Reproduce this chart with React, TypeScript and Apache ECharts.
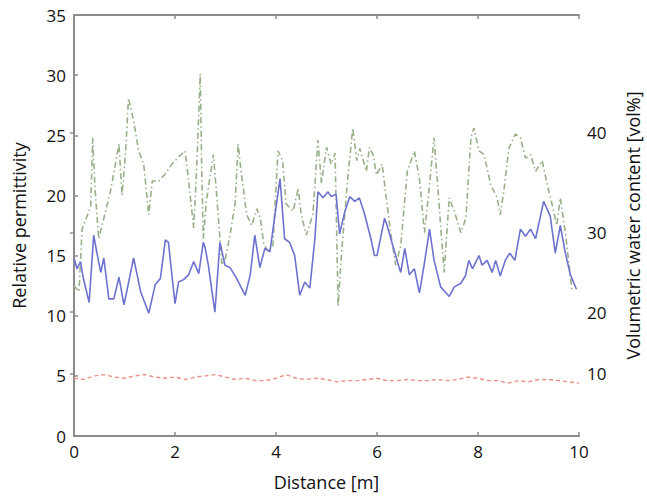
import React, { useEffect, useRef } from "react";
import * as echarts from "echarts";

// Blue solid line (relative permittivity)
const blueDist = [0.0, 0.06, 0.13, 0.18, 0.3, 0.39, 0.45, 0.53, 0.59, 0.69, 0.79, 0.89, 0.99, 1.18, 1.32, 1.48, 1.61, 1.71, 1.81, 1.87, 2.0, 2.07, 2.17, 2.27, 2.37, 2.47, 2.56, 2.6, 2.66, 2.79, 2.89, 2.99, 3.09, 3.22, 3.39, 3.49, 3.58, 3.68, 3.78, 3.88, 3.98, 4.08, 4.17, 4.27, 4.37, 4.47, 4.57, 4.67, 4.77, 4.83, 4.93, 5.03, 5.09, 5.19, 5.26, 5.36, 5.46, 5.56, 5.65, 5.75, 5.88, 5.95, 6.0, 6.15, 6.2, 6.41, 6.47, 6.55, 6.64, 6.74, 6.84, 6.94, 7.04, 7.13, 7.26, 7.43, 7.53, 7.66, 7.75, 7.82, 7.89, 8.02, 8.08, 8.18, 8.28, 8.35, 8.44, 8.54, 8.63, 8.73, 8.84, 8.94, 9.04, 9.14, 9.3, 9.43, 9.53, 9.63, 9.73, 9.83, 9.95];
const bluePerm = [14.8, 13.9, 14.5, 13.2, 11.1, 16.7, 15.3, 13.6, 14.8, 11.4, 11.4, 13.2, 10.9, 14.8, 12.0, 10.2, 12.6, 13.1, 16.3, 16.1, 11.0, 12.8, 13.0, 13.4, 14.5, 13.5, 16.1, 15.6, 14.2, 10.3, 16.1, 14.2, 14.0, 13.1, 11.7, 13.4, 16.7, 14.0, 15.6, 15.3, 18.4, 21.4, 16.4, 16.1, 15.0, 11.7, 12.8, 12.3, 16.4, 20.3, 19.8, 20.3, 19.9, 20.1, 16.8, 18.6, 19.9, 19.5, 19.8, 18.5, 16.4, 15.0, 15.0, 18.1, 17.5, 14.4, 13.6, 15.6, 13.4, 13.9, 11.9, 14.4, 17.2, 14.6, 12.4, 11.6, 12.4, 12.7, 13.3, 14.6, 13.9, 15.0, 14.2, 14.6, 13.6, 14.6, 13.3, 14.6, 15.2, 14.6, 17.2, 16.6, 17.2, 16.4, 19.5, 18.3, 15.2, 17.5, 15.2, 13.4, 12.2];

// Green dash-dot line
const greenDist = [0.0, 0.1, 0.16, 0.26, 0.33, 0.37, 0.42, 0.49, 0.62, 0.72, 0.82, 0.89, 0.95, 1.02, 1.08, 1.18, 1.28, 1.38, 1.48, 1.55, 1.68, 1.81, 1.94, 2.07, 2.2, 2.27, 2.37, 2.43, 2.5, 2.53, 2.56, 2.62, 2.76, 2.82, 2.93, 3.0, 3.09, 3.19, 3.25, 3.3, 3.42, 3.52, 3.62, 3.69, 3.76, 3.86, 3.94, 4.04, 4.13, 4.2, 4.34, 4.44, 4.5, 4.6, 4.73, 4.83, 4.9, 5.0, 5.09, 5.17, 5.23, 5.3, 5.42, 5.52, 5.6, 5.66, 5.79, 5.85, 5.92, 5.99, 6.1, 6.27, 6.37, 6.47, 6.6, 6.74, 6.84, 6.94, 7.04, 7.13, 7.23, 7.33, 7.43, 7.53, 7.66, 7.76, 7.86, 7.92, 8.02, 8.12, 8.25, 8.38, 8.44, 8.51, 8.61, 8.74, 8.84, 8.94, 9.04, 9.14, 9.27, 9.37, 9.47, 9.56, 9.63, 9.73, 9.86];
const greenPerm = [12.5, 12.0, 17.2, 18.3, 19.1, 24.8, 20.3, 16.4, 18.6, 20.3, 22.6, 24.3, 20.0, 23.5, 28.1, 26.2, 23.7, 22.6, 18.4, 21.2, 21.2, 21.8, 22.6, 23.2, 23.7, 21.2, 17.3, 22.3, 30.1, 22.0, 16.4, 19.5, 23.4, 20.3, 14.2, 14.8, 16.7, 19.3, 24.3, 22.3, 18.4, 17.5, 18.9, 18.1, 15.9, 15.3, 15.9, 23.7, 22.9, 19.3, 18.7, 20.6, 18.4, 16.7, 18.4, 24.6, 21.0, 24.0, 22.6, 23.5, 10.8, 15.3, 21.4, 25.6, 22.9, 23.9, 22.0, 24.0, 23.4, 21.7, 22.6, 16.9, 14.2, 15.8, 22.0, 23.7, 21.4, 16.9, 20.9, 24.8, 19.2, 13.6, 19.8, 18.7, 16.9, 18.1, 24.8, 25.6, 23.7, 23.4, 20.9, 19.8, 18.4, 20.3, 23.9, 25.1, 24.8, 23.1, 23.4, 22.0, 22.9, 20.9, 19.2, 17.5, 19.8, 16.9, 12.2];

// Red dashed line
const redDist = [0, 0.2, 0.4, 0.6, 0.8, 1.0, 1.2, 1.4, 1.6, 1.8, 2.0, 2.2, 2.4, 2.6, 2.8, 3.0, 3.2, 3.4, 3.6, 3.8, 4.0, 4.2, 4.4, 4.6, 4.8, 5.0, 5.2, 5.4, 5.6, 5.8, 6.0, 6.2, 6.4, 6.6, 6.8, 7.0, 7.2, 7.4, 7.6, 7.8, 8.0, 8.2, 8.4, 8.6, 8.8, 9.0, 9.2, 9.4, 9.6, 9.8, 10.0];
const redPerm = [4.8, 4.7, 5.0, 5.1, 4.9, 4.8, 5.0, 5.1, 4.9, 4.8, 4.9, 4.7, 4.9, 5.0, 5.1, 4.9, 4.7, 4.8, 4.6, 4.6, 4.8, 5.1, 4.8, 4.7, 4.8, 4.7, 4.5, 4.6, 4.6, 4.7, 4.8, 4.6, 4.6, 4.7, 4.6, 4.6, 4.7, 4.6, 4.7, 4.9, 4.8, 4.6, 4.6, 4.4, 4.6, 4.5, 4.7, 4.7, 4.6, 4.5, 4.4];

// Right axis: volumetric water content tick labels and the permittivity they sit at
const waterTicks = [10, 20, 30, 40];
const waterTickPerm = [5.2, 10.3, 16.9, 25.2];

const permMin = 0;
const permMax = 35;
const permStep = 0.1;

const FONT = "Open Sans";
const AXIS_COLOR = "#8c8c8c";

function zip(xs: number[], ys: number[]) {
  return xs.map((x, i) => [x, ys[i]]);
}

export default function App() {
  const ref = useRef<HTMLDivElement>(null);

  useEffect(() => {
    if (!ref.current) return;
    const chart = echarts.init(ref.current, undefined, { renderer: "svg" });

    const n = Math.round((permMax - permMin) / permStep);
    const permGrid: string[] = [];
    for (let i = 0; i <= n; i++) permGrid.push((permMin + i * permStep).toFixed(1));
    const tickIdx: Record<number, string> = {};
    waterTicks.forEach((w, i) => {
      tickIdx[Math.round((waterTickPerm[i] - permMin) / permStep)] = String(w);
    });
    const showTick = (index: number) => tickIdx[index] !== undefined;

    const axisLine = { show: true, lineStyle: { color: AXIS_COLOR, width: 2 } };
    const axisTick = { show: true, inside: true, length: 4, lineStyle: { color: AXIS_COLOR, width: 1.5 } };
    const label = { color: "#111", fontSize: 17, fontFamily: FONT };
    const nameStyle = { color: "#111", fontSize: 18, fontFamily: FONT };

    chart.setOption({
      animation: false,
      backgroundColor: "#ffffff",
      grid: { left: 74, right: 68, top: 15, bottom: 62, containLabel: false, outerBoundsMode: "none" },
      xAxis: [
        {
          type: "value", min: 0, max: 10, interval: 2, position: "bottom",
          name: "Distance [m]", nameLocation: "middle", nameGap: 37, nameTextStyle: nameStyle,
          axisLine, axisTick, axisLabel: { ...label, margin: 7 }, splitLine: { show: false },
        },
        {
          type: "value", min: 0, max: 10, interval: 2, position: "top",
          axisLine, axisTick, axisLabel: { show: false }, splitLine: { show: false },
        },
      ],
      yAxis: [
        {
          type: "value", min: 0, max: 35, interval: 5, position: "left",
          name: "Relative permittivity", nameLocation: "middle", nameGap: 46, nameRotate: 90,
          nameTextStyle: nameStyle,
          axisLine, axisTick, axisLabel: { ...label, margin: 8 }, splitLine: { show: false },
        },
        {
          type: "category", position: "right", data: permGrid, boundaryGap: false,
          name: "Volumetric water content [vol%]", nameLocation: "middle", nameGap: 45, nameRotate: 90,
          nameTextStyle: nameStyle,
          axisLine,
          axisTick: { ...axisTick, interval: (index: number) => showTick(index) },
          axisLabel: {
            ...label, margin: 8,
            interval: (index: number) => showTick(index),
            formatter: (_v: string, index: number) => tickIdx[index] ?? "",
          },
          splitLine: { show: false },
        },
      ],
      series: [
        {
          type: "line", xAxisIndex: 0, yAxisIndex: 0, data: zip(greenDist, greenPerm),
          showSymbol: false, symbol: "none",
          lineStyle: { color: "#97b088", width: 1.6, type: [6, 3, 1.5, 3] },
        },
        {
          type: "line", xAxisIndex: 0, yAxisIndex: 0, data: zip(blueDist, bluePerm),
          showSymbol: false, symbol: "none",
          lineStyle: { color: "#6e72cf", width: 1.6 },
        },
        {
          type: "line", xAxisIndex: 0, yAxisIndex: 0, data: zip(redDist, redPerm),
          showSymbol: false, symbol: "none",
          lineStyle: { color: "#ec8f86", width: 1.4, type: [4, 3] },
        },
      ],
    });

    return () => chart.dispose();
  }, []);

  return (
    <div
      ref={ref}
      style={{ position: "fixed", left: 0, top: 0, width: 647, height: 498, background: "#fff" }}
    />
  );
}
